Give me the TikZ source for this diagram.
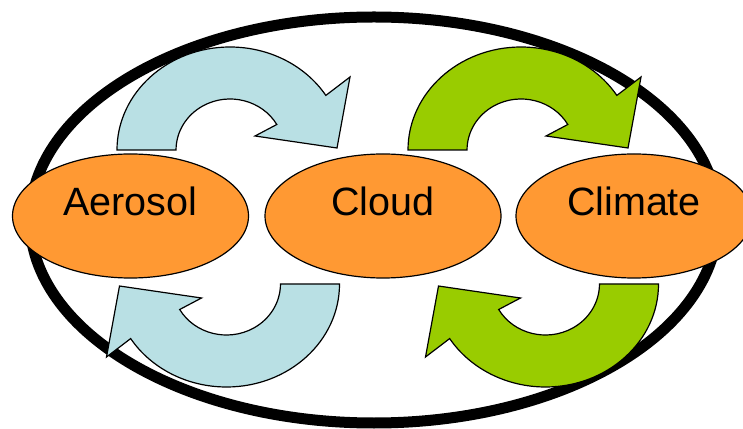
\documentclass[tikz,border=0pt]{standalone}
\usepackage{fontspec}
\setmainfont{Liberation Sans}
\usetikzlibrary{shapes.geometric}

\definecolor{blobfill}{RGB}{255,153,51}
\definecolor{paleblue}{RGB}{185,224,228}
\definecolor{leafgreen}{RGB}{153,204,0}

% one curved feedback arrow, centred on its arc
\newcommand{\turnarrow}[1]{%
  \draw[#1] (-113,0) arc[start angle=180, end angle=32, x radius=113, y radius=103]
    -- (120,73) -- (107,2) -- (25,14) -- (46.8,25.5)
    arc[start angle=30, end angle=180, x radius=54, y radius=51] -- cycle;}

\begin{document}
\begin{tikzpicture}[x=1pt, y=1pt,
  blob/.style={ellipse, draw, line width=1.2pt, fill=blobfill,
    minimum width=236pt, minimum height=124pt, inner sep=0pt,
    text height=28pt, text depth=28pt,
    font=\fontsize{39.5}{40}\selectfont},
  turn/.style={draw, line width=1.2pt, line join=miter}]
\useasboundingbox (0,0) rectangle (743,428);
\draw[line width=11pt] (374,208) ellipse[x radius=344, y radius=203];

\turnarrow{turn, fill=paleblue, shift={(230,278)}}
\turnarrow{turn, fill=leafgreen, shift={(521,278)}}
\turnarrow{turn, fill=paleblue, shift={(226.5,144)}, rotate=180}
\turnarrow{turn, fill=leafgreen, shift={(545.5,144)}, rotate=180}

\node[blob] (aerosol) at (130.5,212) {Aerosol};
\node[blob] (cloud) at (383,212) {Cloud};
\node[blob] (climate) at (634,212) {Climate};
\end{tikzpicture}
\end{document}
